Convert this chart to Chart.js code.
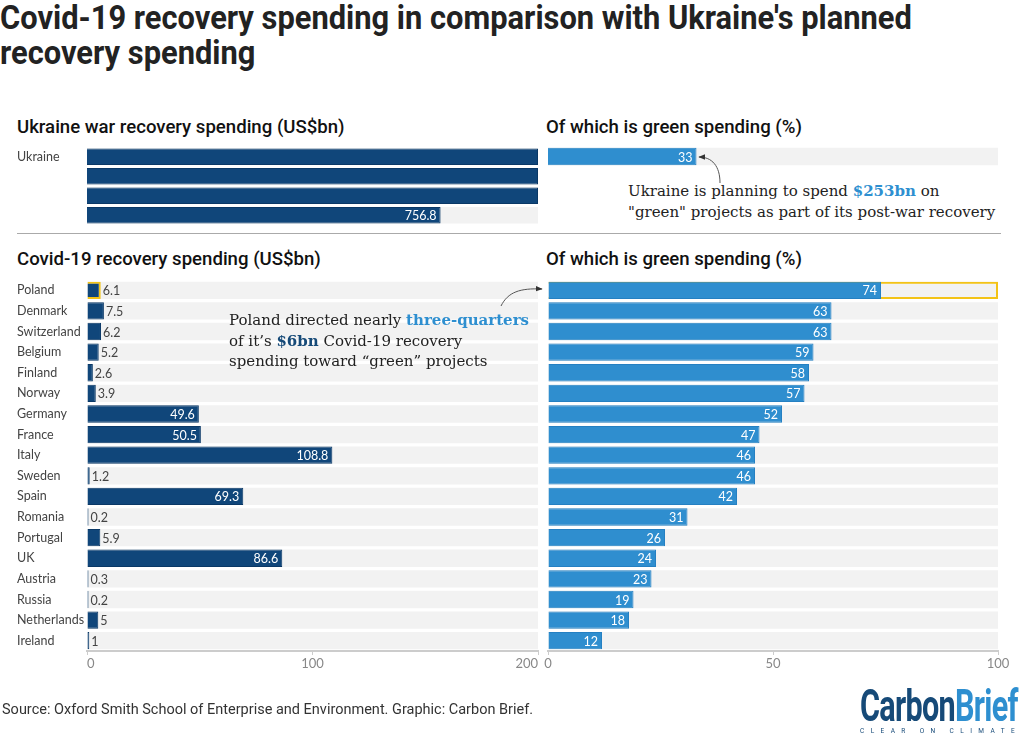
<!DOCTYPE html>
<html>
<head>
<meta charset="utf-8">
<script src="https://cdn.jsdelivr.net/npm/chart.js@4.4.1/dist/chart.umd.min.js"></script>
<style>
  body { margin: 0; width: 1024px; height: 739px; position: relative; background: #fff; overflow: hidden; font-family: Roboto, sans-serif; color: #222; }
  .abs { position: absolute; }
  #title { left: 0; top: 0; font-family: Roboto, sans-serif; font-weight: bold; font-size: 33px; line-height: 35px; color: #222; white-space: nowrap; transform: scaleX(0.935); transform-origin: left top; }
  .sub { font-family: Roboto, sans-serif; font-weight: 500; font-size: 18.6px; color: #111; white-space: nowrap; }
  .note { font-family: "DejaVu Serif", serif; font-size: 15px; line-height: 20.5px; color: #222; white-space: nowrap; }
  .note b.lb { color: #2e8fd0; }
  .note b.db { color: #164a78; }
  #source { left: 2px; top: 701px; font-size: 14.5px; color: #333; white-space: nowrap; }
  #logo { left: 860px; top: 685px; width: 164px; }
  #logo .word { font-family: Roboto, sans-serif; font-weight: bold; font-size: 44px; line-height: 42px; letter-spacing: -1px; white-space: nowrap; transform: scaleX(0.695); transform-origin: left top; }
  #logo .tag { font-size: 6.5px; letter-spacing: 6.4px; color: #164a78; margin-top: 0px; white-space: nowrap; }
  .box { position: absolute; }
</style>
</head>
<body>
<div id="title" class="abs">Covid-19 recovery spending in comparison with Ukraine's planned<br>recovery spending</div>

<div class="abs sub" style="left:17px;top:116px">Ukraine war recovery spending (US$bn)</div>
<div class="abs sub" style="left:546px;top:116px">Of which is green spending (%)</div>
<div class="abs" style="left:17px;top:233px;width:984px;height:1px;background:#aaa"></div>
<div class="abs sub" style="left:17px;top:248px">Covid-19 recovery spending (US$bn)</div>
<div class="abs sub" style="left:546px;top:248px">Of which is green spending (%)</div>

<div class="box" style="left:0;top:147px;width:545px;height:78px"><canvas id="ukSpend"></canvas></div>
<div class="box" style="left:540px;top:147px;width:484px;height:19px"><canvas id="ukGreen"></canvas></div>
<div class="box" style="left:0;top:280px;width:545px;height:395px"><canvas id="covidSpend"></canvas></div>
<div class="box" style="left:540px;top:280px;width:484px;height:395px"><canvas id="covidGreen"></canvas></div>

<div class="abs note" style="left:628px;top:181px">Ukraine is planning to spend <b class="lb">$253bn</b> on<br>"green" projects as part of its post-war recovery</div>
<div class="abs note" style="left:229px;top:310px">Poland directed nearly <b class="lb">three-quarters</b><br>of it’s <b class="db">$6bn</b> Covid-19 recovery<br>spending toward “green” projects</div>

<svg class="abs" style="left:0;top:0;pointer-events:none" width="1024" height="739">
  <defs>
    <marker id="head" viewBox="0 0 10 10" refX="9" refY="5" markerWidth="7" markerHeight="7" orient="auto-start-reverse">
      <path d="M0,1 L10,5 L0,9 Z" fill="#333"/>
    </marker>
  </defs>
  <path d="M720,183 C720,166 712,157 699,157" fill="none" stroke="#555" stroke-width="1" marker-end="url(#head)"/>
  <path d="M501,306 C508,292 520,288 542,289" fill="none" stroke="#555" stroke-width="1" marker-end="url(#head)"/>
</svg>

<div id="source" class="abs">Source: Oxford Smith School of Enterprise and Environment. Graphic: Carbon Brief.</div>
<div id="logo" class="abs">
  <div class="word"><span style="color:#164a78">Carbon</span><span style="color:#2e8fd0">Brief</span></div>
  <div class="tag">CLEAR ON CLIMATE</div>
</div>

<script>
// data
const ukraineLabel = 'Ukraine';
const ukraineSpending = 756.8;
const ukraineGreen = 33;

const countries = ['Poland', 'Denmark', 'Switzerland', 'Belgium', 'Finland', 'Norway', 'Germany', 'France', 'Italy',
  'Sweden', 'Spain', 'Romania', 'Portugal', 'UK', 'Austria', 'Russia', 'Netherlands', 'Ireland'];
const covidSpending = [6.1, 7.5, 6.2, 5.2, 2.6, 3.9, 49.6, 50.5, 108.8, 1.2, 69.3, 0.2, 5.9, 86.6, 0.3, 0.2, 5, 1];
const greenShare = [74, 63, 63, 59, 58, 57, 52, 47, 46, 46, 42, 31, 26, 24, 23, 19, 18, 12];

const spendingMax = 200;
const spendingTicks = [0, 100, 200];
const shareMax = 100;
const shareTicks = [0, 50, 100];

const NAVY = '#10467a';
const NAVY_EDGE = '#0a3866';
const BLUE = '#2f8ecf';
const BLUE_EDGE = '#2580c2';
const TRACK = '#f2f2f2';
const HIGHLIGHT = '#f3c316';
const FONT = 'Lato, Roboto, sans-serif';

// the Ukraine bar runs off the 0-200 scale, so it wraps over several rows
const ukRows = [0, 1, 2, 3].map(i => Math.min(spendingMax, Math.max(0, ukraineSpending - i * spendingMax)));
const ukLabels = ukRows.map((_, i) => i === 0 ? ukraineLabel : '');

function valueLabels(texts, insideTest) {
  return {
    id: 'valueLabels',
    afterDatasetsDraw(chart) {
      const ctx = chart.ctx;
      const meta = chart.getDatasetMeta(0);
      meta.data.forEach((bar, i) => {
        const t = texts[i];
        if (t == null) return;
        ctx.save();
        ctx.font = '12.5px ' + FONT;
        ctx.textBaseline = 'middle';
        if (insideTest(i)) {
          ctx.fillStyle = '#fff';
          ctx.textAlign = 'right';
          ctx.fillText(t, bar.x - 4, bar.y + 1);
        } else {
          ctx.fillStyle = '#444';
          ctx.textAlign = 'left';
          ctx.fillText(t, bar.x + 2, bar.y + 1);
        }
        ctx.restore();
      });
    }
  };
}

function xAxis(max, ticks, show, align) {
  return {
    display: show,
    min: 0, max: max,
    afterBuildTicks: s => { s.ticks = ticks.map(v => ({ value: v })); },
    ticks: { color: '#888', font: { family: FONT, size: 13 }, padding: 1, maxRotation: 0, align: align || 'center' },
    grid: { display: show, drawOnChartArea: false, drawTicks: true, tickLength: 4, color: '#ccc' },
    border: { display: show, color: '#ccc', width: 2 },
    afterFit: s => { if (show) s.height = 24; s.paddingLeft = 0; s.paddingRight = 0; }
  };
}

function yAxis(labelsShown) {
  if (!labelsShown) return { display: false, grid: { display: false } };
  return {
    ticks: { crossAlign: 'far', color: '#444', font: { family: FONT, size: 12.5 }, padding: 0, autoSkip: false },
    grid: { display: false },
    border: { display: false },
    afterFit: s => { s.width = 70; s.paddingTop = 0; s.paddingBottom = 0; }
  };
}

function baseOptions(xa, ya, padding) {
  return {
    indexAxis: 'y',
    responsive: true,
    maintainAspectRatio: false,
    animation: false,
    layout: { padding: padding },
    scales: { x: xa, y: ya },
    plugins: { legend: { display: false }, tooltip: { enabled: false } }
  };
}

// Ukraine spending (wrapped bar)
new Chart(document.getElementById('ukSpend'), {
  type: 'bar',
  data: {
    labels: ukLabels,
    datasets: [
      { data: ukRows, backgroundColor: NAVY, borderColor: NAVY_EDGE, borderWidth: 1, grouped: false, barPercentage: 0.84, categoryPercentage: 1 },
      { data: ukRows.map(() => spendingMax), backgroundColor: TRACK, grouped: false, barPercentage: 0.84, categoryPercentage: 1 }
    ]
  },
  options: baseOptions(xAxis(spendingMax, spendingTicks, false), yAxis(true), { left: 17, right: 7, top: 0, bottom: 0 }),
  plugins: [valueLabels(ukRows.map((_, i) => i === ukRows.length - 1 ? String(ukraineSpending) : null), () => true)]
});

// Ukraine green share
new Chart(document.getElementById('ukGreen'), {
  type: 'bar',
  data: {
    labels: [ukraineLabel],
    datasets: [
      { data: [ukraineGreen], backgroundColor: BLUE, borderColor: BLUE_EDGE, borderWidth: 1, grouped: false, barPercentage: 0.92, categoryPercentage: 1 },
      { data: [shareMax], backgroundColor: TRACK, grouped: false, barPercentage: 0.92, categoryPercentage: 1 }
    ]
  },
  options: baseOptions(xAxis(shareMax, shareTicks, false), yAxis(false), { left: 8, right: 26, top: 0, bottom: 0 }),
  plugins: [valueLabels([String(ukraineGreen)], () => true)]
});

// Covid-19 spending
new Chart(document.getElementById('covidSpend'), {
  type: 'bar',
  data: {
    labels: countries,
    datasets: [
      { data: covidSpending, backgroundColor: NAVY,
        borderColor: countries.map((_, i) => i === 0 ? HIGHLIGHT : NAVY_EDGE),
        borderWidth: countries.map((_, i) => i === 0 ? 2 : 1),
        minBarLength: 1.5,
        grouped: false, barPercentage: 0.84, categoryPercentage: 1 },
      { data: countries.map(() => spendingMax), backgroundColor: TRACK, grouped: false, barPercentage: 0.84, categoryPercentage: 1 }
    ]
  },
  options: baseOptions(xAxis(spendingMax, spendingTicks, true, 'inner'), yAxis(true), { left: 17, right: 7, top: 0, bottom: 0 }),
  plugins: [valueLabels(covidSpending.map(v => String(v)), i => covidSpending[i] >= 40)]
});

// Covid-19 green share
new Chart(document.getElementById('covidGreen'), {
  type: 'bar',
  data: {
    labels: countries,
    datasets: [
      { data: greenShare, backgroundColor: BLUE, borderColor: BLUE_EDGE, borderWidth: 1, grouped: false, barPercentage: 0.84, categoryPercentage: 1 },
      { data: countries.map((_, i) => i === 0 ? shareMax : null), backgroundColor: 'rgba(0,0,0,0)', borderColor: HIGHLIGHT, borderWidth: 2, grouped: false, barPercentage: 0.84, categoryPercentage: 1 },
      { data: countries.map(() => shareMax), backgroundColor: TRACK, grouped: false, barPercentage: 0.84, categoryPercentage: 1 }
    ]
  },
  options: baseOptions(xAxis(shareMax, shareTicks, true), yAxis(false), { left: 8, right: 26, top: 0, bottom: 0 }),
  plugins: [valueLabels(greenShare.map(v => String(v)), () => true)]
});
</script>
</body>
</html>
